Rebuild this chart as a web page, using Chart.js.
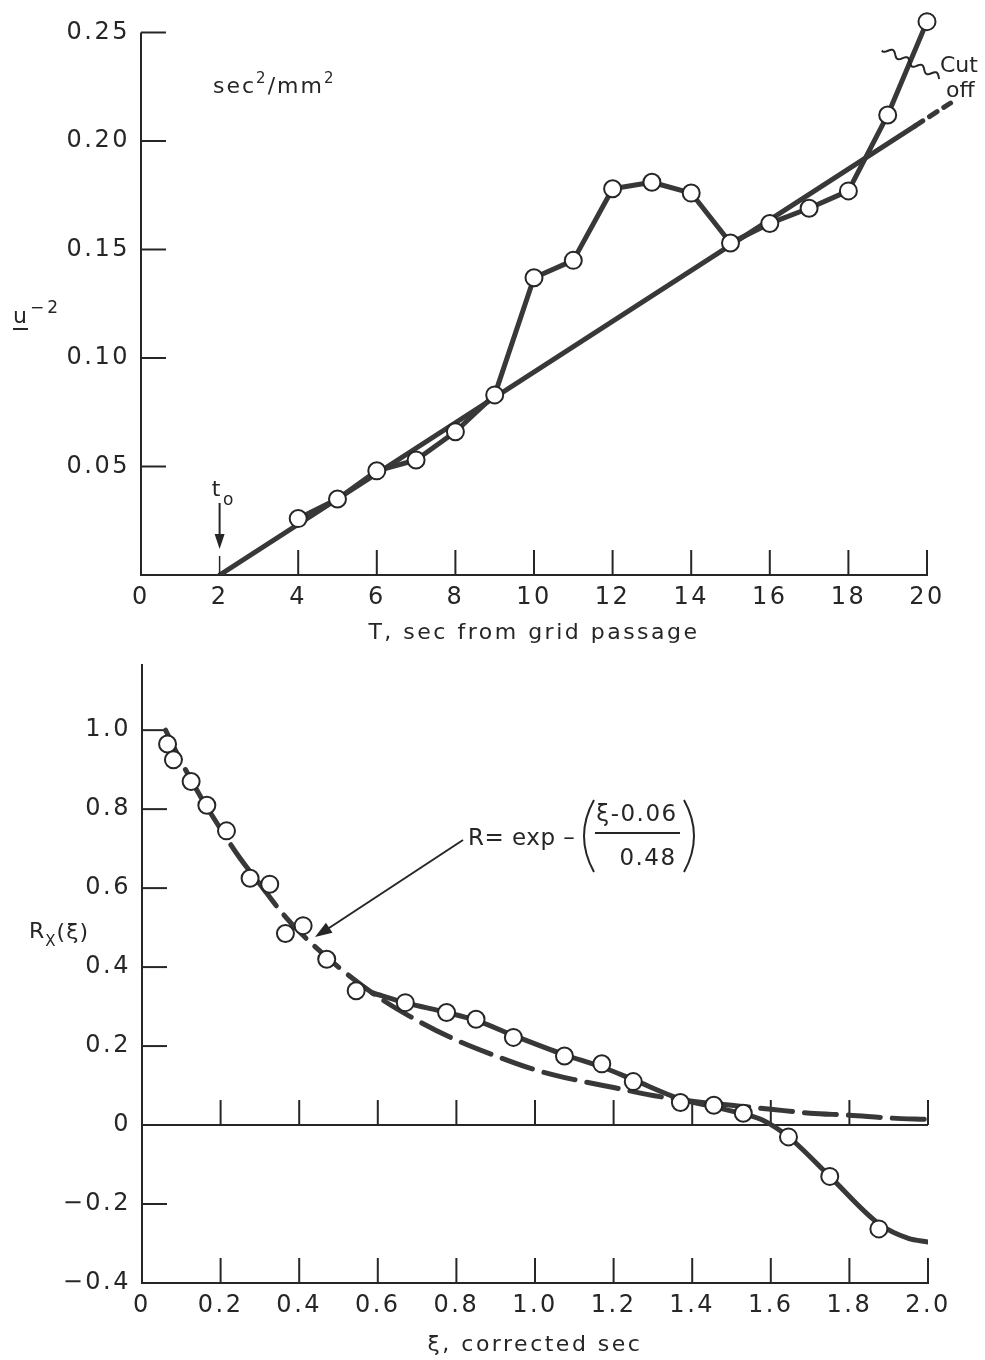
<!DOCTYPE html>
<html>
<head>
<meta charset="utf-8">
<script src="https://cdn.jsdelivr.net/npm/chart.js@4.4.1/dist/chart.umd.min.js"></script>
<style>
  html, body { margin: 0; padding: 0; background: #fff; }
  body { position: relative; width: 985px; height: 1360px; overflow: hidden; }
  canvas { position: absolute; left: 0; }
  #decayChart { top: 0; }
  #corrChart { top: 650px; }
</style>
</head>
<body>
<canvas id="decayChart" width="985" height="650"></canvas>
<canvas id="corrChart" width="985" height="710"></canvas>
<script>
// upper panel: u^-2 (sec^2/mm^2) against T, sec from grid passage
const timeSec = [4, 5, 6, 7, 8, 9, 10, 11, 12, 13, 14, 15, 16, 17, 18, 19, 20];
const uInvSq = [0.026, 0.035, 0.048, 0.053, 0.066, 0.083, 0.137, 0.145, 0.178, 0.181, 0.176, 0.153, 0.162, 0.169, 0.177, 0.212, 0.255];
const fitTime = [2, 19.7];
const fitValue = [0, 0.207];
const fitExtTime = [19.7, 20.6];
const fitExtValue = [0.207, 0.2175];
const upperTicksY = [0, 0.05, 0.10, 0.15, 0.20, 0.25];

// lower panel: correlation R_x against corrected lag
const xiObs = [0.065, 0.08, 0.125, 0.165, 0.215, 0.275, 0.325, 0.365, 0.41, 0.47, 0.545, 0.67, 0.775, 0.85, 0.945, 1.075, 1.17, 1.25, 1.37, 1.455, 1.53, 1.645, 1.75, 1.875];
const rObs = [0.965, 0.925, 0.87, 0.81, 0.745, 0.625, 0.61, 0.485, 0.505, 0.42, 0.34, 0.31, 0.285, 0.268, 0.222, 0.175, 0.155, 0.11, 0.057, 0.05, 0.03, -0.03, -0.13, -0.263];
const xiSmooth = [0.585, 0.67, 0.775, 0.85, 0.95, 1.075, 1.17, 1.25, 1.37, 1.46, 1.53, 1.58, 1.645, 1.75, 1.875, 1.95, 2.0];
const rSmooth = [0.335, 0.31, 0.285, 0.265, 0.225, 0.178, 0.147, 0.115, 0.066, 0.045, 0.028, 0.012, -0.03, -0.13, -0.25, -0.287, -0.296];
const xiExp = [0.06, 0.1, 0.15, 0.2, 0.25, 0.3, 0.35, 0.4, 0.5, 0.6, 0.7, 0.8, 0.9, 1.0, 1.1, 1.2, 1.3, 1.4, 1.5, 1.6, 1.7, 1.8, 1.9, 2.0];
const rExp = [1.0, 0.92, 0.83, 0.75, 0.675, 0.61, 0.545, 0.49, 0.40, 0.325, 0.265, 0.215, 0.175, 0.14, 0.115, 0.095, 0.075, 0.06, 0.05, 0.04, 0.03, 0.025, 0.018, 0.014];

const ink = '#262626';
const lineInk = '#383838';
const FONT = '"DejaVu Sans", sans-serif';

Chart.defaults.font.family = FONT;
Chart.defaults.color = ink;

const pairs = (xs, ys) => xs.map((x, i) => ({ x: x, y: ys[i] }));

function seg(ctx, x1, y1, x2, y2) {
  ctx.beginPath();
  ctx.moveTo(x1, y1);
  ctx.lineTo(x2, y2);
  ctx.stroke();
}

function arrowHead(ctx, fromX, fromY, tipX, tipY, len, half) {
  const a = Math.atan2(tipY - fromY, tipX - fromX);
  ctx.beginPath();
  ctx.moveTo(tipX, tipY);
  ctx.lineTo(tipX - len * Math.cos(a) + half * Math.sin(a), tipY - len * Math.sin(a) - half * Math.cos(a));
  ctx.lineTo(tipX - len * Math.cos(a) - half * Math.sin(a), tipY - len * Math.sin(a) + half * Math.cos(a));
  ctx.closePath();
  ctx.fill();
}

// text with raised / lowered pieces, written left to right
function runs(ctx, x, y, parts) {
  parts.forEach(p => {
    ctx.font = p.size + 'px ' + FONT;
    ctx.fillText(p.t, x, y + (p.dy || 0));
    x += ctx.measureText(p.t).width + (p.gap || 0);
  });
}

// wide lettering like the drafting stencil
const spacing = {
  id: 'spacing',
  beforeLayout(chart) { chart.ctx.letterSpacing = '2.5px'; },
  beforeDraw(chart) { chart.ctx.letterSpacing = '2.5px'; }
};

const lineStyle = {
  showLine: true,
  borderColor: lineInk,
  borderWidth: 5,
  borderCapStyle: 'round',
  borderJoinStyle: 'round',
  pointRadius: 0
};

const markerStyle = {
  pointRadius: 8.5,
  pointBorderWidth: 2,
  pointBackgroundColor: '#fff',
  pointBorderColor: ink,
  pointHoverRadius: 8.5
};

// tick marks sit inside the frame
const upperMarks = {
  id: 'upperMarks',
  beforeDatasetsDraw(chart) {
    const { ctx, scales: { x, y } } = chart;
    const yTop = y.getPixelForValue(upperTicksY[upperTicksY.length - 1]);
    ctx.save();
    ctx.strokeStyle = ink;
    ctx.lineWidth = 2;
    seg(ctx, x.left, y.bottom, x.left, yTop);
    x.ticks.forEach(t => {
      if (t.value < 4) return;
      const px = x.getPixelForValue(t.value);
      seg(ctx, px, y.bottom, px, y.bottom - 25);
    });
    y.ticks.forEach(t => {
      if (t.value <= 0) return;
      const py = y.getPixelForValue(t.value);
      seg(ctx, x.left, py, x.left + 25, py);
    });
    ctx.restore();
  },
  afterDraw(chart) {
    const { ctx, scales: { x, y } } = chart;
    ctx.save();
    ctx.fillStyle = ink;
    ctx.strokeStyle = ink;
    ctx.letterSpacing = '1px';

    // t0 marker
    const px = x.getPixelForValue(2);
    ctx.font = '22px ' + FONT;
    ctx.textAlign = 'center';
    ctx.textBaseline = 'alphabetic';
    ctx.fillText('t', px - 3, 496);
    ctx.font = '17px ' + FONT;
    ctx.fillText('o', px + 9, 505);
    ctx.lineWidth = 2;
    seg(ctx, px, 503, px, 536);
    arrowHead(ctx, px, 503, px, 549, 15, 5);
    ctx.lineWidth = 1.5;
    seg(ctx, px, 556, px, y.bottom);

    // cut-off wiggle across the last segment
    const cx = x.getPixelForValue(19.56);
    const cy = y.getPixelForValue(0.2364);
    const dx = 62, dy = 32;
    const len = Math.hypot(dx, dy);
    const ux = dx / len, uy = dy / len;
    ctx.lineWidth = 2;
    ctx.beginPath();
    for (let s = -30; s <= 34; s += 1) {
      const w = 3 * Math.sin(s / 2.6);
      const qx = cx + ux * s - uy * w;
      const qy = cy + uy * s + ux * w;
      if (s === -30) ctx.moveTo(qx, qy); else ctx.lineTo(qx, qy);
    }
    ctx.stroke();
    ctx.font = '22px ' + FONT;
    ctx.textAlign = 'left';
    ctx.letterSpacing = '0px';
    ctx.fillText('Cut', 940, 72);
    ctx.fillText('off', 946, 97);

    // units: sec^2/mm^2
    ctx.letterSpacing = '2px';
    runs(ctx, 213, 93, [
      { t: 'sec', size: 22 }, { t: '2', size: 15, dy: -10 },
      { t: '/mm', size: 22 }, { t: '2', size: 15, dy: -10 }
    ]);

    // axis symbol u^-2, underlined u
    ctx.letterSpacing = '3px';
    runs(ctx, 13, 323, [{ t: 'u', size: 22 }, { t: '\u22122', size: 17, dy: -10 }]);
    ctx.lineWidth = 2;
    seg(ctx, 13, 329, 28, 329);
    ctx.restore();
  }
};

new Chart(document.getElementById('decayChart'), {
  type: 'scatter',
  data: {
    datasets: [
      Object.assign({ data: pairs(timeSec, uInvSq), clip: false }, lineStyle, markerStyle),
      Object.assign({ data: pairs(fitTime, fitValue) }, lineStyle),
      Object.assign({ data: pairs(fitExtTime, fitExtValue), borderDash: [9, 8], clip: false }, lineStyle)
    ]
  },
  options: {
    responsive: false,
    animation: false,
    devicePixelRatio: 1,
    layout: { padding: { top: 15, right: 58, left: 0, bottom: 0 } },
    plugins: { legend: { display: false }, tooltip: { enabled: false } },
    scales: {
      x: {
        type: 'linear', min: 0, max: 20,
        grid: { display: false, drawTicks: false },
        border: { color: ink, width: 2 },
        ticks: { stepSize: 2, padding: 8, font: { size: 24 }, maxRotation: 0, autoSkip: false },
        title: { display: true, text: 'T, sec from grid passage', font: { size: 22 }, padding: { top: 0, bottom: 4 } },
        afterFit(s) { s.height = 75; }
      },
      y: {
        // a little headroom above 0.25 so the last reading stays inside the plot box
        min: 0, max: 0.25806,
        grid: { display: false, drawTicks: false },
        border: { display: false },
        ticks: { padding: 11, font: { size: 24 }, callback: v => v === 0 ? '' : v.toFixed(2) },
        afterBuildTicks(s) { s.ticks = upperTicksY.map(v => ({ value: v })); },
        afterFit(s) { s.width = 141; s.paddingTop = 0; s.paddingBottom = 0; }
      }
    }
  },
  plugins: [spacing, upperMarks]
});

const lowerMarks = {
  id: 'lowerMarks',
  beforeDatasetsDraw(chart) {
    const { ctx, scales: { x, y } } = chart;
    const y0 = y.getPixelForValue(0);
    ctx.save();
    ctx.strokeStyle = ink;
    ctx.lineWidth = 2;
    seg(ctx, x.left, y0, x.right, y0);
    x.ticks.forEach(t => {
      if (t.value <= 0) return;
      const px = x.getPixelForValue(t.value);
      seg(ctx, px, y0, px, y0 - 25);
      seg(ctx, px, y.bottom, px, y.bottom - 25);
    });
    y.ticks.forEach(t => {
      if (t.value < -0.3 || Math.abs(t.value) < 1e-6) return;
      const py = y.getPixelForValue(t.value);
      seg(ctx, x.left, py, x.left + 25, py);
    });
    ctx.restore();
  },
  afterDraw(chart) {
    const { ctx } = chart;
    ctx.save();
    ctx.fillStyle = ink;
    ctx.strokeStyle = ink;
    ctx.textBaseline = 'alphabetic';

    // axis symbol R_x(xi)
    ctx.letterSpacing = '1px';
    runs(ctx, 29, 288, [
      { t: 'R', size: 22 }, { t: 'X', size: 15, dy: 8 }, { t: '(\u03be)', size: 22, dy: 1 }
    ]);

    // fitted exponential label with pointer
    ctx.font = '23px ' + FONT;
    ctx.letterSpacing = '0.5px';
    ctx.textBaseline = 'middle';
    ctx.fillText('R= exp \u2013', 468, 189);
    ctx.textAlign = 'center';
    ctx.letterSpacing = '1.5px';
    ctx.fillText('\u03be-0.06', 637, 165);
    ctx.fillText('0.48', 648, 209);
    ctx.lineWidth = 2;
    seg(ctx, 595, 183, 680, 183);
    ctx.beginPath();
    ctx.moveTo(594, 150);
    ctx.quadraticCurveTo(574, 186, 594, 222);
    ctx.stroke();
    ctx.beginPath();
    ctx.moveTo(684, 150);
    ctx.quadraticCurveTo(704, 186, 684, 222);
    ctx.stroke();
    ctx.lineWidth = 2;
    seg(ctx, 463, 190, 326, 280);
    arrowHead(ctx, 463, 190, 315, 287, 17, 6);
    ctx.restore();
  }
};

const fmtR = v => {
  if (Math.abs(v) < 1e-9) return '0';
  return (v < 0 ? '\u2212' : '') + Math.abs(v).toFixed(1);
};

new Chart(document.getElementById('corrChart'), {
  type: 'scatter',
  data: {
    datasets: [
      Object.assign({ data: pairs(xiObs, rObs), showLine: false }, markerStyle),
      Object.assign({ data: pairs(xiSmooth, rSmooth), tension: 0.4, cubicInterpolationMode: 'monotone' }, lineStyle),
      Object.assign({ data: pairs(xiExp, rExp), cubicInterpolationMode: 'monotone', borderDash: [32, 12] }, lineStyle)
    ]
  },
  options: {
    responsive: false,
    animation: false,
    devicePixelRatio: 1,
    layout: { padding: { top: 15, right: 57, left: 0, bottom: 0 } },
    plugins: { legend: { display: false }, tooltip: { enabled: false } },
    scales: {
      x: {
        type: 'linear', min: 0, max: 2,
        grid: { display: false, drawTicks: false },
        border: { color: ink, width: 2 },
        ticks: { stepSize: 0.2, padding: 8, font: { size: 24 }, maxRotation: 0, autoSkip: false,
                 callback: v => Math.abs(v) < 1e-9 ? '0' : v.toFixed(1) },
        title: { display: true, text: '\u03be, corrected sec', font: { size: 22 }, padding: { top: 0, bottom: 2 } },
        afterFit(s) { s.height = 77; }
      },
      y: {
        min: -0.4, max: 1.165,
        grid: { display: false, drawTicks: false },
        border: { color: ink, width: 2 },
        ticks: { stepSize: 0.2, padding: 11, font: { size: 24 }, callback: fmtR },
        afterBuildTicks(s) { s.ticks = s.ticks.filter(t => t.value < 1.01); },
        afterFit(s) { s.width = 142; s.paddingTop = 0; s.paddingBottom = 0; }
      }
    }
  },
  plugins: [spacing, lowerMarks]
});
</script>
</body>
</html>
